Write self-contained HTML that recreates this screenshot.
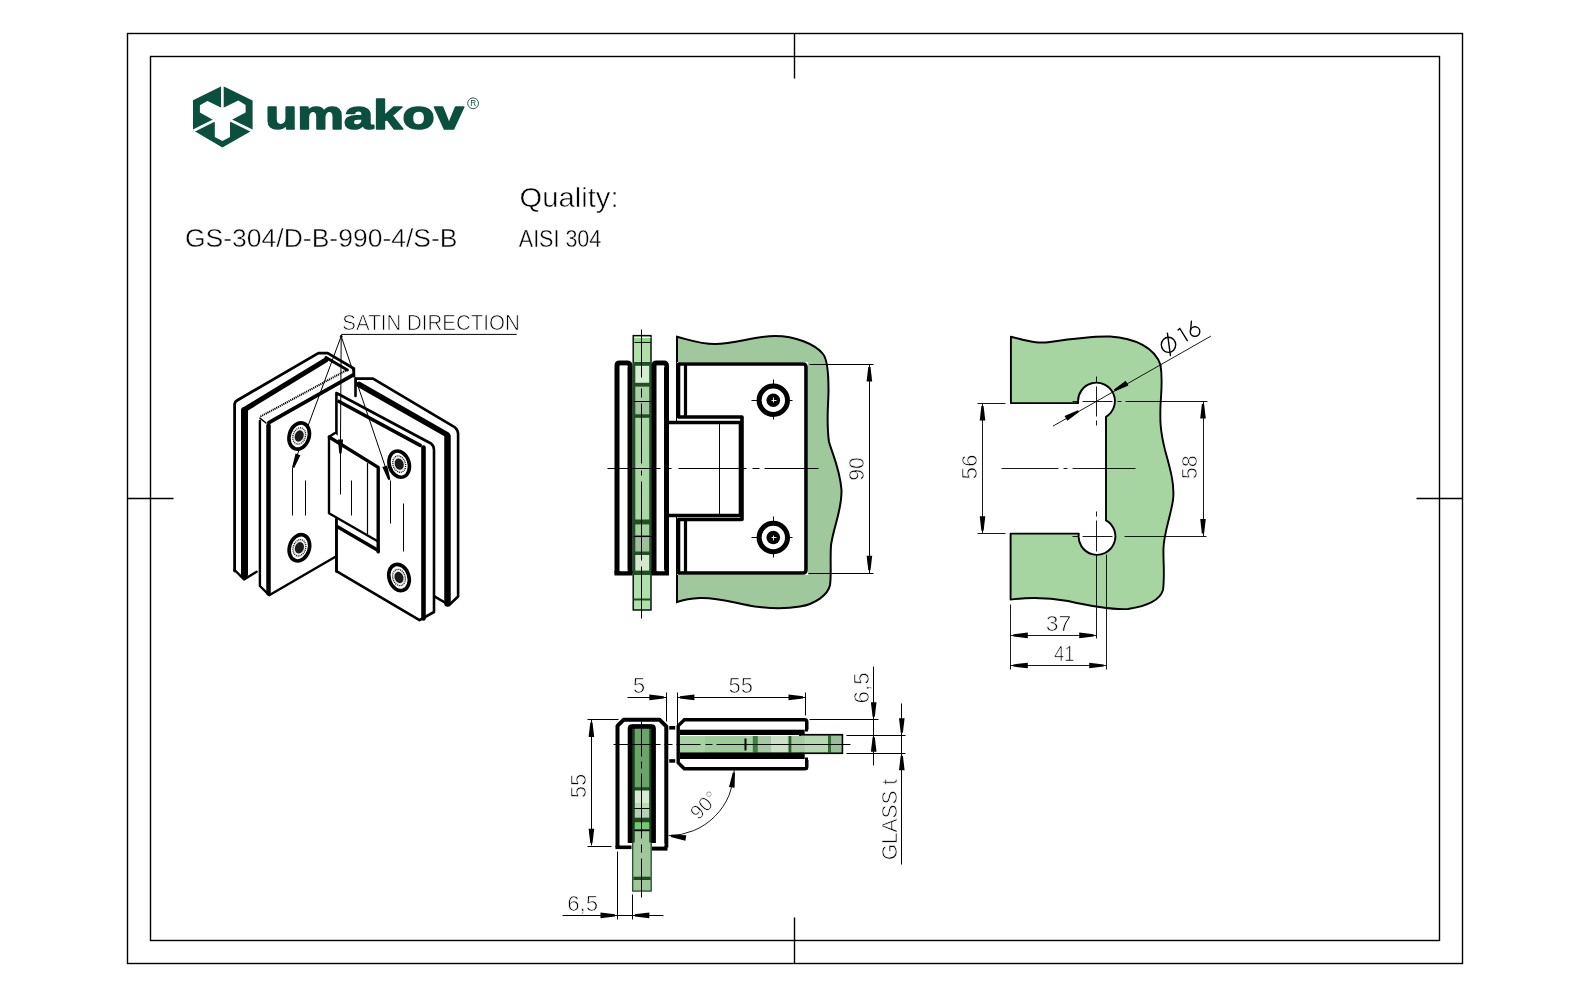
<!DOCTYPE html>
<html><head><meta charset="utf-8">
<style>
html,body{margin:0;padding:0;background:#fff;width:1590px;height:997px;overflow:hidden}
svg{display:block;position:absolute;left:0;top:0;will-change:transform}
text{font-family:"Liberation Sans",sans-serif}
</style></head>
<body>
<svg width="1590" height="997" viewBox="0 0 1590 997">
<g fill="none" stroke="#000" stroke-width="1.4">
<rect x="127.5" y="33.5" width="1335" height="930"/>
<rect x="150.5" y="56.5" width="1289" height="884"/>
<path d="M794.5 33.5 V78.5 M794.5 917.5 V963.5 M127.5 498.5 H173.5 M1416.5 498.5 H1462.5"/>
</g>
<g id="logo">
<polygon fill="#0b4f3f" points="222.4,85.7 252.6,100.5 252.6,130.3 222.4,147.5 193,130.3 193,100.2"/>
<polygon fill="#fff" points="199.9,105.2 207.5,100.9 222.4,108.2 238.3,100.5 245.6,104.9 245.6,112.5 232.4,119.4 230,122.4 230,137 222.4,140.9 214.8,137 214.8,122.4 212.8,119.7 199.9,112.5"/>
<path stroke="#fff" stroke-width="2.6" d="M222.4 84V109M192 131.5L214 120.5M253.5 131.5L231 120.5"/>
<text x="265.2" y="128.8" font-size="40" font-weight="bold" fill="#0b4f3f" stroke="#0b4f3f" stroke-width="1.6" stroke-linejoin="round" textLength="198.5" lengthAdjust="spacingAndGlyphs">umakov</text>
<circle cx="473.1" cy="103.3" r="5.4" fill="none" stroke="#0b4f3f" stroke-width="0.9"/>
<text x="473.3" y="106.2" font-size="8.2" text-anchor="middle" fill="#0b4f3f">R</text>
</g>
<text x="185" y="247" font-size="26.5" stroke="#fff" stroke-width="0.45" textLength="272.5" lengthAdjust="spacingAndGlyphs">GS-304/D-B-990-4/S-B</text>
<text x="519.6" y="207" font-size="27.5" stroke="#fff" stroke-width="0.5" textLength="99" lengthAdjust="spacingAndGlyphs">Quality:</text>
<text x="518.8" y="246.8" font-size="23.2" stroke="#fff" stroke-width="0.35" textLength="82.5" lengthAdjust="spacingAndGlyphs">AISI 304</text>
<path d="M1010.9 336.8 C1025 340 1035 344 1050 342 C1070 339 1090 336 1110 336.5 C1135 338 1155 348 1160.5 365 C1163 380 1161 395 1160.5 405 C1160 420 1160 430 1165 450 C1170 468 1175 485 1173 500 C1171 515 1164 532 1163.5 548 C1163 560 1165 575 1163 590 C1160 600 1148 606 1128 609 C1110 610 1090 606 1068 601 C1045 597 1030 597 1010.6 599.6 L1010.6 533.6 L1078.8 533.6 A18.4 18.4 0 1 0 1106 520.4 L1106 416.8 A18.4 18.4 0 1 0 1078.2 403.1 L1010.9 403.1 Z" fill="#a6d5a1" stroke="#000" stroke-width="1.9" stroke-linejoin="round"/>
<g stroke="#000" stroke-width="0.9" fill="none">
<path d="M1001.5 468.5 H1058.5 M1063.5 468.5 H1067.5 M1072.5 468.5 H1135.5"/>
<path d="M1072.5 401.5 H1078.5 M1082.5 401.5 H1112.5 M1117.5 401.5 H1121.5 M1096.5 376.5 V382.5 M1096.5 386.5 V416.5 M1096.5 420.5 V425.5"/>
<path d="M1072.5 536.5 H1078.5 M1082.5 536.5 H1112.5 M1096.5 511.5 V516.5 M1096.5 520.5 V551.5"/>
<path d="M977.5 403.5 H1005.5 M977.5 533.5 H1005.5 M982.5 403.5 V533.5"/>
<path d="M1125.5 401.5 H1207.5 M1124.5 536.5 H1206.5 M1203.5 401.5 V536.5"/>
<path d="M1010.5 604.5 V669.5 M1096.5 554.5 V638.5 M1106.5 554.5 V669.5 M1010.5 635.5 H1096.5 M1010.5 665.5 H1106.5"/>
<path d="M1053 426.1L1210.9 336.1"/>
</g>
<polygon fill="#000" points="983.60,405.90 985.30,420.40 979.70,420.40 981.40,405.90"/>
<polygon fill="#000" points="981.40,530.70 979.70,516.20 985.30,516.20 983.60,530.70"/>
<polygon fill="#000" points="1204.10,404.10 1205.80,418.60 1200.20,418.60 1201.90,404.10"/>
<polygon fill="#000" points="1201.90,533.50 1200.20,519.00 1205.80,519.00 1204.10,533.50"/>
<polygon fill="#000" points="1013.30,634.30 1027.80,632.60 1027.80,638.20 1013.30,636.50"/>
<polygon fill="#000" points="1093.70,636.50 1079.20,638.20 1079.20,632.60 1093.70,634.30"/>
<polygon fill="#000" points="1013.30,664.40 1027.80,662.70 1027.80,668.30 1013.30,666.60"/>
<polygon fill="#000" points="1103.70,666.60 1089.20,668.30 1089.20,662.70 1103.70,664.40"/>
<polygon fill="#000" points="1079.05,412.09 1067.29,420.75 1064.52,415.89 1077.96,410.18"/>
<polygon fill="#000" points="1113.95,389.41 1125.71,380.75 1128.48,385.61 1115.04,391.32"/>
<g font-size="20" fill="#000">
<text transform="translate(977.1,466.9) rotate(-90)" font-size="21.5" text-anchor="middle" fill="#000" stroke="#fff" stroke-width="0.7" textLength="25" lengthAdjust="spacingAndGlyphs">56</text>
<text transform="translate(1197,467.2) rotate(-90)" font-size="21.5" text-anchor="middle" fill="#000" stroke="#fff" stroke-width="0.7" textLength="24" lengthAdjust="spacingAndGlyphs">58</text>
<text x="1058.5" y="630.9" font-size="21.5" text-anchor="middle" fill="#000" stroke="#fff" stroke-width="0.7" textLength="25.5" lengthAdjust="spacingAndGlyphs">37</text>
<text x="1064.2" y="661" font-size="21.5" text-anchor="middle" fill="#000" stroke="#fff" stroke-width="0.7" textLength="20.5" lengthAdjust="spacingAndGlyphs">41</text>
<g fill="none" stroke="#000" stroke-width="1.4" stroke-linecap="round"><ellipse cx="1168.5" cy="344.8" rx="7.2" ry="7.6"/><path d="M1167.4 333.2L1170.4 355.5M1178.1 330L1179.8 328.5L1187.3 340.6M1191.4 321.3L1190.6 330.4"/><circle cx="1195" cy="331.6" r="4.8"/></g>
</g>
<path d="M677 336.8 C690 340 700 344 715 344 C735 344 755 336 775 336 C795 336 815 344 823 354 C828 360 828.5 375 828.5 390 C828.5 405 826 420 829 442 C834 458 840 470 841.5 490 C842 510 834 525 831 545 C830 560 831.5 575 830 585 C828 595 815 604 800 606.5 C785 609 770 608.5 755 606.5 C735 603 715 597 700 598 C690 598.5 683 600 677 602 Z" fill="#9fc99c" stroke="#000" stroke-width="2"/>
<rect x="677" y="362" width="131" height="213" fill="#fff"/>
<path d="M678.5 364 H803 Q806 364 806 367 V570 Q806 573 803 573 H678.5 V519.5 H742 V417 H678.5 Z" fill="#fff" stroke="#000" stroke-width="3.6" stroke-linejoin="round"/>
<path d="M685.5 364.5 V417.5 M685.5 519.5 V573.5" stroke="#000" stroke-width="3.2"/>
<path d="M666.5 422.5 H740.5 V515.5 H666.5" fill="#fff" stroke="#000" stroke-width="3.6"/>
<path d="M719.5 423.5 V514.5" stroke="#000" stroke-width="1"/>
<circle cx="773.3" cy="400.2" r="14.2" fill="#fff" stroke="#000" stroke-width="5"/>
<circle cx="773.3" cy="400.2" r="6.8" fill="#000"/>
<path d="M751.5 400.5 H758.5 M788.5 400.5 H792.5 M773.5 379.5 V385.5 M773.5 414.5 V419.5" stroke="#000" stroke-width="1"/>
<path d="M771.5 400.5 H776.5 M773.5 397.5 V402.5" stroke="#fff" stroke-width="0.9"/>
<circle cx="773.3" cy="537.5" r="14.2" fill="#fff" stroke="#000" stroke-width="5"/>
<circle cx="773.3" cy="537.5" r="6.8" fill="#000"/>
<path d="M751.5 537.5 H758.5 M788.5 537.5 H792.5 M773.5 516.5 V522.5 M773.5 551.5 V557.5" stroke="#000" stroke-width="1"/>
<path d="M771.5 537.5 H776.5 M773.5 535.5 V540.5" stroke="#fff" stroke-width="0.9"/>
<rect x="633.2" y="335.6" width="17.8" height="274.4" fill="#b0e0aa" stroke="#000" stroke-width="1.4"/>
<rect x="634.1" y="338" width="16" height="4.2" fill="#86dc80"/>
<path d="M634.5 337.5 H650.5" stroke="#fff" stroke-width="1.1"/>
<path d="M634.5 342.5 H650.5" stroke="#000" stroke-width="1"/>
<rect x="633" y="362" width="18.2" height="213" fill="#1f4f22"/>
<rect x="635.3" y="365.8" width="13.9" height="17.0" fill="#d6ecd2"/>
<rect x="635.3" y="386.6" width="13.9" height="14.4" fill="#a9d0a3"/>
<rect x="635.3" y="401.8" width="13.9" height="12.5" fill="#a3c29f"/>
<rect x="635.3" y="417.8" width="13.9" height="101.7" fill="#a9d6a4"/>
<rect x="635.3" y="524.4" width="13.9" height="11.0" fill="#a4cf9f"/>
<rect x="635.3" y="537.1" width="13.9" height="14.4" fill="#9fbe9b"/>
<rect x="635.3" y="555" width="13.9" height="15.6" fill="#d3e8cf"/>
<path d="M633.5 401.5 H651.5 M633.5 536.5 H651.5" stroke="#000" stroke-width="1"/>
<path d="M633.5 599.5 H651.5" stroke="#1f4f22" stroke-width="2"/>
<g fill="none" stroke="#000" stroke-width="5" stroke-linejoin="round">
<path d="M617 574V365.5Q617 363 619.5 363H627Q630 363 630 366V574"/>
<path d="M654 574V365.5Q654 363 656.5 363H664Q666.5 363 666.5 366V574"/>
</g>
<rect x="614.5" y="571" width="18" height="4.5" fill="#000"/>
<rect x="651.5" y="571" width="17.5" height="4.5" fill="#000"/>
<path d="M620.5 366.5 H627.5 M657.5 366.5 H664.5 M620.5 570.5 H627.5 M657.5 570.5 H664.5" stroke="#fff" stroke-width="1.5"/>
<g stroke="#000" stroke-width="1" fill="none">
<path d="M607.5 468.5 H660.5 M665.5 468.5 H671.5 M678.5 468.5 H746.5 M752.5 468.5 H759.5 M764.5 468.5 H818.5"/>
<path d="M641.5 329.5 V377.5 M641.5 388.5 V397.5 M641.5 403.5 V463.5 M641.5 470.5 V475.5 M641.5 481.5 V560.5 M641.5 566.5 V618.5"/>
<path d="M809.5 364.5 H873.5 M808.5 573.5 H873.5 M869.5 364.5 V573.5"/>
</g>
<polygon fill="#000" points="870.50,366.90 872.20,381.40 866.60,381.40 868.30,366.90"/>
<polygon fill="#000" points="868.30,570.30 866.60,555.80 872.20,555.80 870.50,570.30"/>
<text transform="translate(864.1,469) rotate(-90)" font-size="21.5" text-anchor="middle" fill="#000" stroke="#fff" stroke-width="0.7" textLength="23.5" lengthAdjust="spacingAndGlyphs">90</text>
<path d="M806.8 729.8V722Q806.8 719.8 804.5 719.8H684.3L678.2 725.9V762.7L684.3 768.8H804.5Q806.8 768.8 806.8 766.8V760" fill="#fff" stroke="#000" stroke-width="3.4" stroke-linejoin="round"/>
<rect x="800" y="734.8" width="42.3" height="18.4" fill="#a3c9a0" stroke="#000" stroke-width="1.8"/>
<rect x="801" y="735.8" width="27" height="16.4" fill="#b5d8b0"/>
<rect x="828" y="735.8" width="3" height="16.4" fill="#2e6e33"/>
<rect x="831" y="735.8" width="10.4" height="16.4" fill="#98bf95"/>
<rect x="680" y="729.7" width="124.7" height="5.3" fill="#000"/>
<rect x="680" y="736" width="124.7" height="16.6" fill="#a6d3a1"/>
<rect x="705" y="736" width="41" height="16.6" fill="#9ccc97"/>
<rect x="752.8" y="736" width="5" height="16.6" fill="#3f7f44"/>
<rect x="758" y="736" width="13" height="16.6" fill="#a5c9a2"/>
<rect x="771" y="736" width="16.6" height="16.6" fill="#c9e2c5"/>
<rect x="788.6" y="736" width="3" height="16.6" fill="#2b5d2e"/>
<rect x="791.6" y="736" width="13" height="16.6" fill="#a7cca3"/>
<rect x="680" y="752.4" width="124.7" height="6.6" fill="#000"/>
<path d="M745.5 738.5 V750.5" stroke="#000" stroke-width="2"/>
<path d="M806.5 720.5 V731.5 M806.5 757.5 V769.5" stroke="#000" stroke-width="3"/>
<rect x="669.2" y="726" width="6" height="3.6" fill="#000"/>
<rect x="669.2" y="759.2" width="6" height="3.5" fill="#000"/>
<rect x="632.7" y="725" width="18.5" height="166.1" fill="#9fc79b" stroke="#1d3f1f" stroke-width="1.2"/>
<rect x="633.4" y="725.5" width="17.2" height="62" fill="#6aa468"/>
<rect x="633.4" y="787.2" width="17.2" height="3.4" fill="#1f4a22"/>
<rect x="635" y="790.7" width="14" height="12.8" fill="#d5ead1"/>
<rect x="635" y="803.3" width="14" height="4.8" fill="#b9dcb4"/>
<rect x="633.4" y="808" width="17.2" height="1" fill="#000"/>
<rect x="635" y="809" width="14" height="8.7" fill="#b5cfb2"/>
<rect x="633.4" y="817.7" width="17.2" height="4.8" fill="#1f4a22"/>
<rect x="635" y="822.5" width="14" height="6.9" fill="#6fcb6f"/>
<rect x="633.4" y="829.4" width="17.2" height="1.8" fill="#000"/>
<rect x="633.4" y="876.7" width="17.2" height="3.3" fill="#1f4a22"/>
<path d="M633.5 725.5 V842.5 M650.5 725.5 V842.5" stroke="#1d3f1f" stroke-width="2.5"/>
<g fill="none" stroke="#000" stroke-linejoin="round">
<path d="M617.5 847.5V725.8L623.5 719.8H659.7L666.3 726.4V847.5" stroke-width="4"/>
<path d="M630 843V728.5Q630 726.5 632 726.5H651.5Q653.6 726.5 653.6 728.5V843" stroke-width="4.6"/>
</g>
<rect x="615.5" y="845.5" width="16" height="3.6" fill="#000"/>
<rect x="652" y="846.6" width="15.5" height="4" fill="#000"/>
<path d="M620.5 843.5 H628.5 M656.5 844.5 H664.5" stroke="#fff" stroke-width="1.3"/>
<g stroke="#000" stroke-width="1" fill="none">
<path d="M613.5 744.5 H660.5 M664.5 744.5 H672.5 M676.5 744.5 H700.5 M705.5 744.5 H712.5 M716.5 744.5 H850.5"/>
<path d="M641.5 721.5 V756.5 M641.5 761.5 V768.5 M641.5 773.5 V838.5 M641.5 844.5 V852.5 M641.5 858.5 V897.5"/>
<path d="M627.5 697.5 H666.5 M677.5 697.5 H805.5 M666.5 692.5 V721.5 M677.5 692.5 V725.5 M805.5 692.5 V715.5"/>
<path d="M873.5 666.5 V765.5 M809.5 719.5 H878.5 M846.5 735.5 H905.5 M846.5 753.5 H905.5 M901.5 703.5 V864.5"/>
<path d="M587.5 719.5 H618.5 M587.5 846.5 H611.5 M591.5 719.5 V845.5"/>
<path d="M562.5 915.5 H663.5 M617.5 851.5 V919.5 M632.5 894.5 V919.5"/>
<path d="M734.2 770 A66 66 0 0 1 668.5 835.7" stroke-width="0.9"/>
</g>
<polygon fill="#000" points="663.80,698.50 649.30,700.20 649.30,694.60 663.80,696.30"/>
<polygon fill="#000" points="679.90,696.30 694.40,694.60 694.40,700.20 679.90,698.50"/>
<polygon fill="#000" points="803.00,698.50 788.50,700.20 788.50,694.60 803.00,696.30"/>
<polygon fill="#000" points="872.60,716.70 870.90,702.20 876.50,702.20 874.80,716.70"/>
<polygon fill="#000" points="874.80,737.30 876.50,751.80 870.90,751.80 872.60,737.30"/>
<polygon fill="#000" points="900.70,732.70 899.00,718.20 904.60,718.20 902.90,732.70"/>
<polygon fill="#000" points="902.90,755.80 904.60,770.30 899.00,770.30 900.70,755.80"/>
<polygon fill="#000" points="592.50,722.50 594.20,737.00 588.60,737.00 590.30,722.50"/>
<polygon fill="#000" points="590.30,843.20 588.60,828.70 594.20,828.70 592.50,843.20"/>
<polygon fill="#000" points="615.00,916.50 600.50,918.20 600.50,912.60 615.00,914.30"/>
<polygon fill="#000" points="634.80,914.30 649.30,912.60 649.30,918.20 634.80,916.50"/>
<polygon fill="#000" points="734.97,772.73 734.57,787.82 729.02,787.04 732.79,772.42"/>
<polygon fill="#000" points="671.13,834.83 686.22,835.23 685.44,840.78 670.82,837.01"/>
<g font-size="20" fill="#000">
<text x="639" y="692.7" font-size="21.5" text-anchor="middle" fill="#000" stroke="#fff" stroke-width="0.7" textLength="12.5" lengthAdjust="spacingAndGlyphs">5</text>
<text x="740.75" y="692.7" font-size="21.5" text-anchor="middle" fill="#000" stroke="#fff" stroke-width="0.7" textLength="24.5" lengthAdjust="spacingAndGlyphs">55</text>
<text transform="translate(585.9,786.1) rotate(-90)" font-size="21.5" text-anchor="middle" fill="#000" stroke="#fff" stroke-width="0.7" textLength="24.5" lengthAdjust="spacingAndGlyphs">55</text>
<text x="582.65" y="911" font-size="21.5" text-anchor="middle" fill="#000" stroke="#fff" stroke-width="0.7" textLength="31" lengthAdjust="spacingAndGlyphs">6,5</text>
<text transform="translate(868.5,687.9) rotate(-90)" font-size="21.5" text-anchor="middle" fill="#000" stroke="#fff" stroke-width="0.7" textLength="31" lengthAdjust="spacingAndGlyphs">6,5</text>
<text transform="translate(896.9,819.6) rotate(-90)" font-size="21.5" text-anchor="middle" fill="#000" stroke="#fff" stroke-width="0.7" textLength="81.5" lengthAdjust="spacingAndGlyphs">GLASS t</text>
<text transform="translate(709,810) rotate(-45)" text-anchor="middle" font-size="20" stroke="#fff" stroke-width="0.7">90&#176;</text>
</g>
<path d="M355 378.6H373L455 427.4Q458.1 430 458.1 434V596.8L452 601.6H445.6L443 598V436L358 386V396Z" fill="#fff"/>
<path d="M355.5 396V378.6H373L455 427.4Q458.1 430 458.1 434V596.5L449.1 605L434 596.2" stroke="#000" fill="none" stroke-linecap="round" stroke-linejoin="round" stroke-width="2.6"/>
<path d="M359 384.5L447 434.6" stroke="#000" fill="none" stroke-linecap="round" stroke-linejoin="round" stroke-width="5.5"/>
<path d="M447.5 436.5 V603.5" stroke="#000" fill="none" stroke-linecap="round" stroke-linejoin="round" stroke-width="6.5"/>
<path d="M235.5 572V404L322 353Q326 351 330 353L354 368V376L262 425V576L239 578Z" fill="#fff"/>
<path d="M234.6 571V404Q235 401.5 237 400.5L318.4 353.1H327.7L353.8 368.5V376" stroke="#000" fill="none" stroke-linecap="round" stroke-linejoin="round" stroke-width="2.8"/>
<path d="M244.2 409.8L326 359.9" stroke="#000" fill="none" stroke-linecap="round" stroke-linejoin="round" stroke-width="5.2"/>
<path d="M326 357.5L347.4 370" stroke="#000" fill="none" stroke-linecap="round" stroke-linejoin="round" stroke-width="3"/>
<path d="M244.5 410.5 V574.5" stroke="#000" fill="none" stroke-linecap="round" stroke-linejoin="round" stroke-width="7"/>
<path d="M234.6 570L244 579.4L256.6 571.7" stroke="#000" fill="none" stroke-linecap="round" stroke-linejoin="round" stroke-width="2.4"/>
<path d="M260.4 416.6L347.4 369.7" stroke="#000" stroke-width="2" stroke-dasharray="1.2 0.8"/>
<path d="M259.9 418L352.6 374.9V392L336 437V557L267.1 593.4L259.9 589Z" fill="#fff"/>
<path d="M259.9 421V586L269.2 595.2L335 557" stroke="#000" fill="none" stroke-linecap="round" stroke-linejoin="round" stroke-width="2.4"/>
<path d="M268.5 425.5 V593.5" stroke="#000" fill="none" stroke-linecap="round" stroke-linejoin="round" stroke-width="4.5"/>
<path d="M268.9 422.6L353.3 374.8" stroke="#000" fill="none" stroke-linecap="round" stroke-linejoin="round" stroke-width="3.8"/>
<path d="M259.9 418.2L266 423" stroke="#000" fill="none" stroke-linecap="round" stroke-linejoin="round" stroke-width="1.5"/>
<path d="M336.4 392L431 443Q434 446 434 450V612.9L421.5 619.3L336.4 571.1Z" fill="#fff"/>
<path d="M336.4 442.5V393L431 443.5Q434 446 434 450V612L419.5 620.1L336.4 571.1V520" stroke="#000" fill="none" stroke-linecap="round" stroke-linejoin="round" stroke-width="2.6"/>
<path d="M339 401.5L420.2 445.4" stroke="#000" fill="none" stroke-linecap="round" stroke-linejoin="round" stroke-width="3.6"/>
<path d="M423.5 447.5 V618.5" stroke="#000" fill="none" stroke-linecap="round" stroke-linejoin="round" stroke-width="4.6"/>
<path d="M329 436.8L334.6 433.3L378.2 465V551.9L337.5 527V520L329 513.3Z" fill="#fff"/>
<path d="M329 436.8V513.3L376.8 540.7" stroke="#000" fill="none" stroke-linecap="round" stroke-linejoin="round" stroke-width="2.4"/>
<path d="M329 436.8L334.6 433.3" stroke="#000" fill="none" stroke-linecap="round" stroke-linejoin="round" stroke-width="2.4"/>
<path d="M329.5 437.2L378.2 467.4V551.9" stroke="#000" fill="none" stroke-linecap="round" stroke-linejoin="round" stroke-width="3.4"/>
<path d="M337.5 526.7L378.2 550.5" stroke="#000" fill="none" stroke-linecap="round" stroke-linejoin="round" stroke-width="3.4"/>
<path d="M336.5 518.5 V571.5" stroke="#000" fill="none" stroke-linecap="round" stroke-linejoin="round" stroke-width="2.6"/>
<path d="M367.5 463.5 V533.5" stroke="#000" fill="none" stroke-linecap="round" stroke-linejoin="round" stroke-width="1.2"/>
<path d="M292.5 467.5 V515.5 M305.5 480.5 V515.5 M340.5 450.5 V494.5 M351.5 480.5 V515.5 M390.5 480.5 V523.5 M403.5 503.5 V551.5" stroke="#000" stroke-width="1"/>
<path d="M341.2 336.2L292.8 467M341.2 336.2L340.4 453.5M341.2 336.2L389.6 479.5M341.2 334.4H516.7" stroke="#000" stroke-width="1"/>
<circle cx="341.2" cy="336.2" r="1.3" fill="#000"/>
<polygon fill="#000" points="292.12,467.18 295.57,453.53 300.44,455.33 294.18,467.94"/>
<polygon fill="#000" points="339.31,453.49 337.90,439.48 343.10,439.52 341.51,453.51"/>
<polygon fill="#000" points="388.24,479.90 382.34,467.12 387.26,465.46 390.32,479.20"/>
<g transform="translate(299.2,436) rotate(18)"><ellipse rx="9.9" ry="13.4" fill="#fff" stroke="#000" stroke-width="3.6"/><ellipse rx="6.2" ry="8.4" fill="#eee" stroke="#111" stroke-width="1.3" stroke-dasharray="1 0.9"/><ellipse rx="4.4" ry="5.8" fill="#1a1a1a"/></g>
<g transform="translate(299.4,547.8) rotate(18)"><ellipse rx="9.9" ry="13.4" fill="#fff" stroke="#000" stroke-width="3.6"/><ellipse rx="6.2" ry="8.4" fill="#eee" stroke="#111" stroke-width="1.3" stroke-dasharray="1 0.9"/><ellipse rx="4.4" ry="5.8" fill="#1a1a1a"/></g>
<g transform="translate(399.2,464.1) rotate(-18)"><ellipse rx="9.9" ry="13.4" fill="#fff" stroke="#000" stroke-width="3.6"/><ellipse rx="6.2" ry="8.4" fill="#eee" stroke="#111" stroke-width="1.3" stroke-dasharray="1 0.9"/><ellipse rx="4.4" ry="5.8" fill="#1a1a1a"/></g>
<g transform="translate(399,577.5) rotate(-18)"><ellipse rx="9.9" ry="13.4" fill="#fff" stroke="#000" stroke-width="3.6"/><ellipse rx="6.2" ry="8.4" fill="#eee" stroke="#111" stroke-width="1.3" stroke-dasharray="1 0.9"/><ellipse rx="4.4" ry="5.8" fill="#1a1a1a"/></g>
<text x="342.3" y="329.8" font-size="21.4" stroke="#fff" stroke-width="0.7" textLength="177.5" lengthAdjust="spacingAndGlyphs">SATIN DIRECTION</text>
</svg>
</body></html>
